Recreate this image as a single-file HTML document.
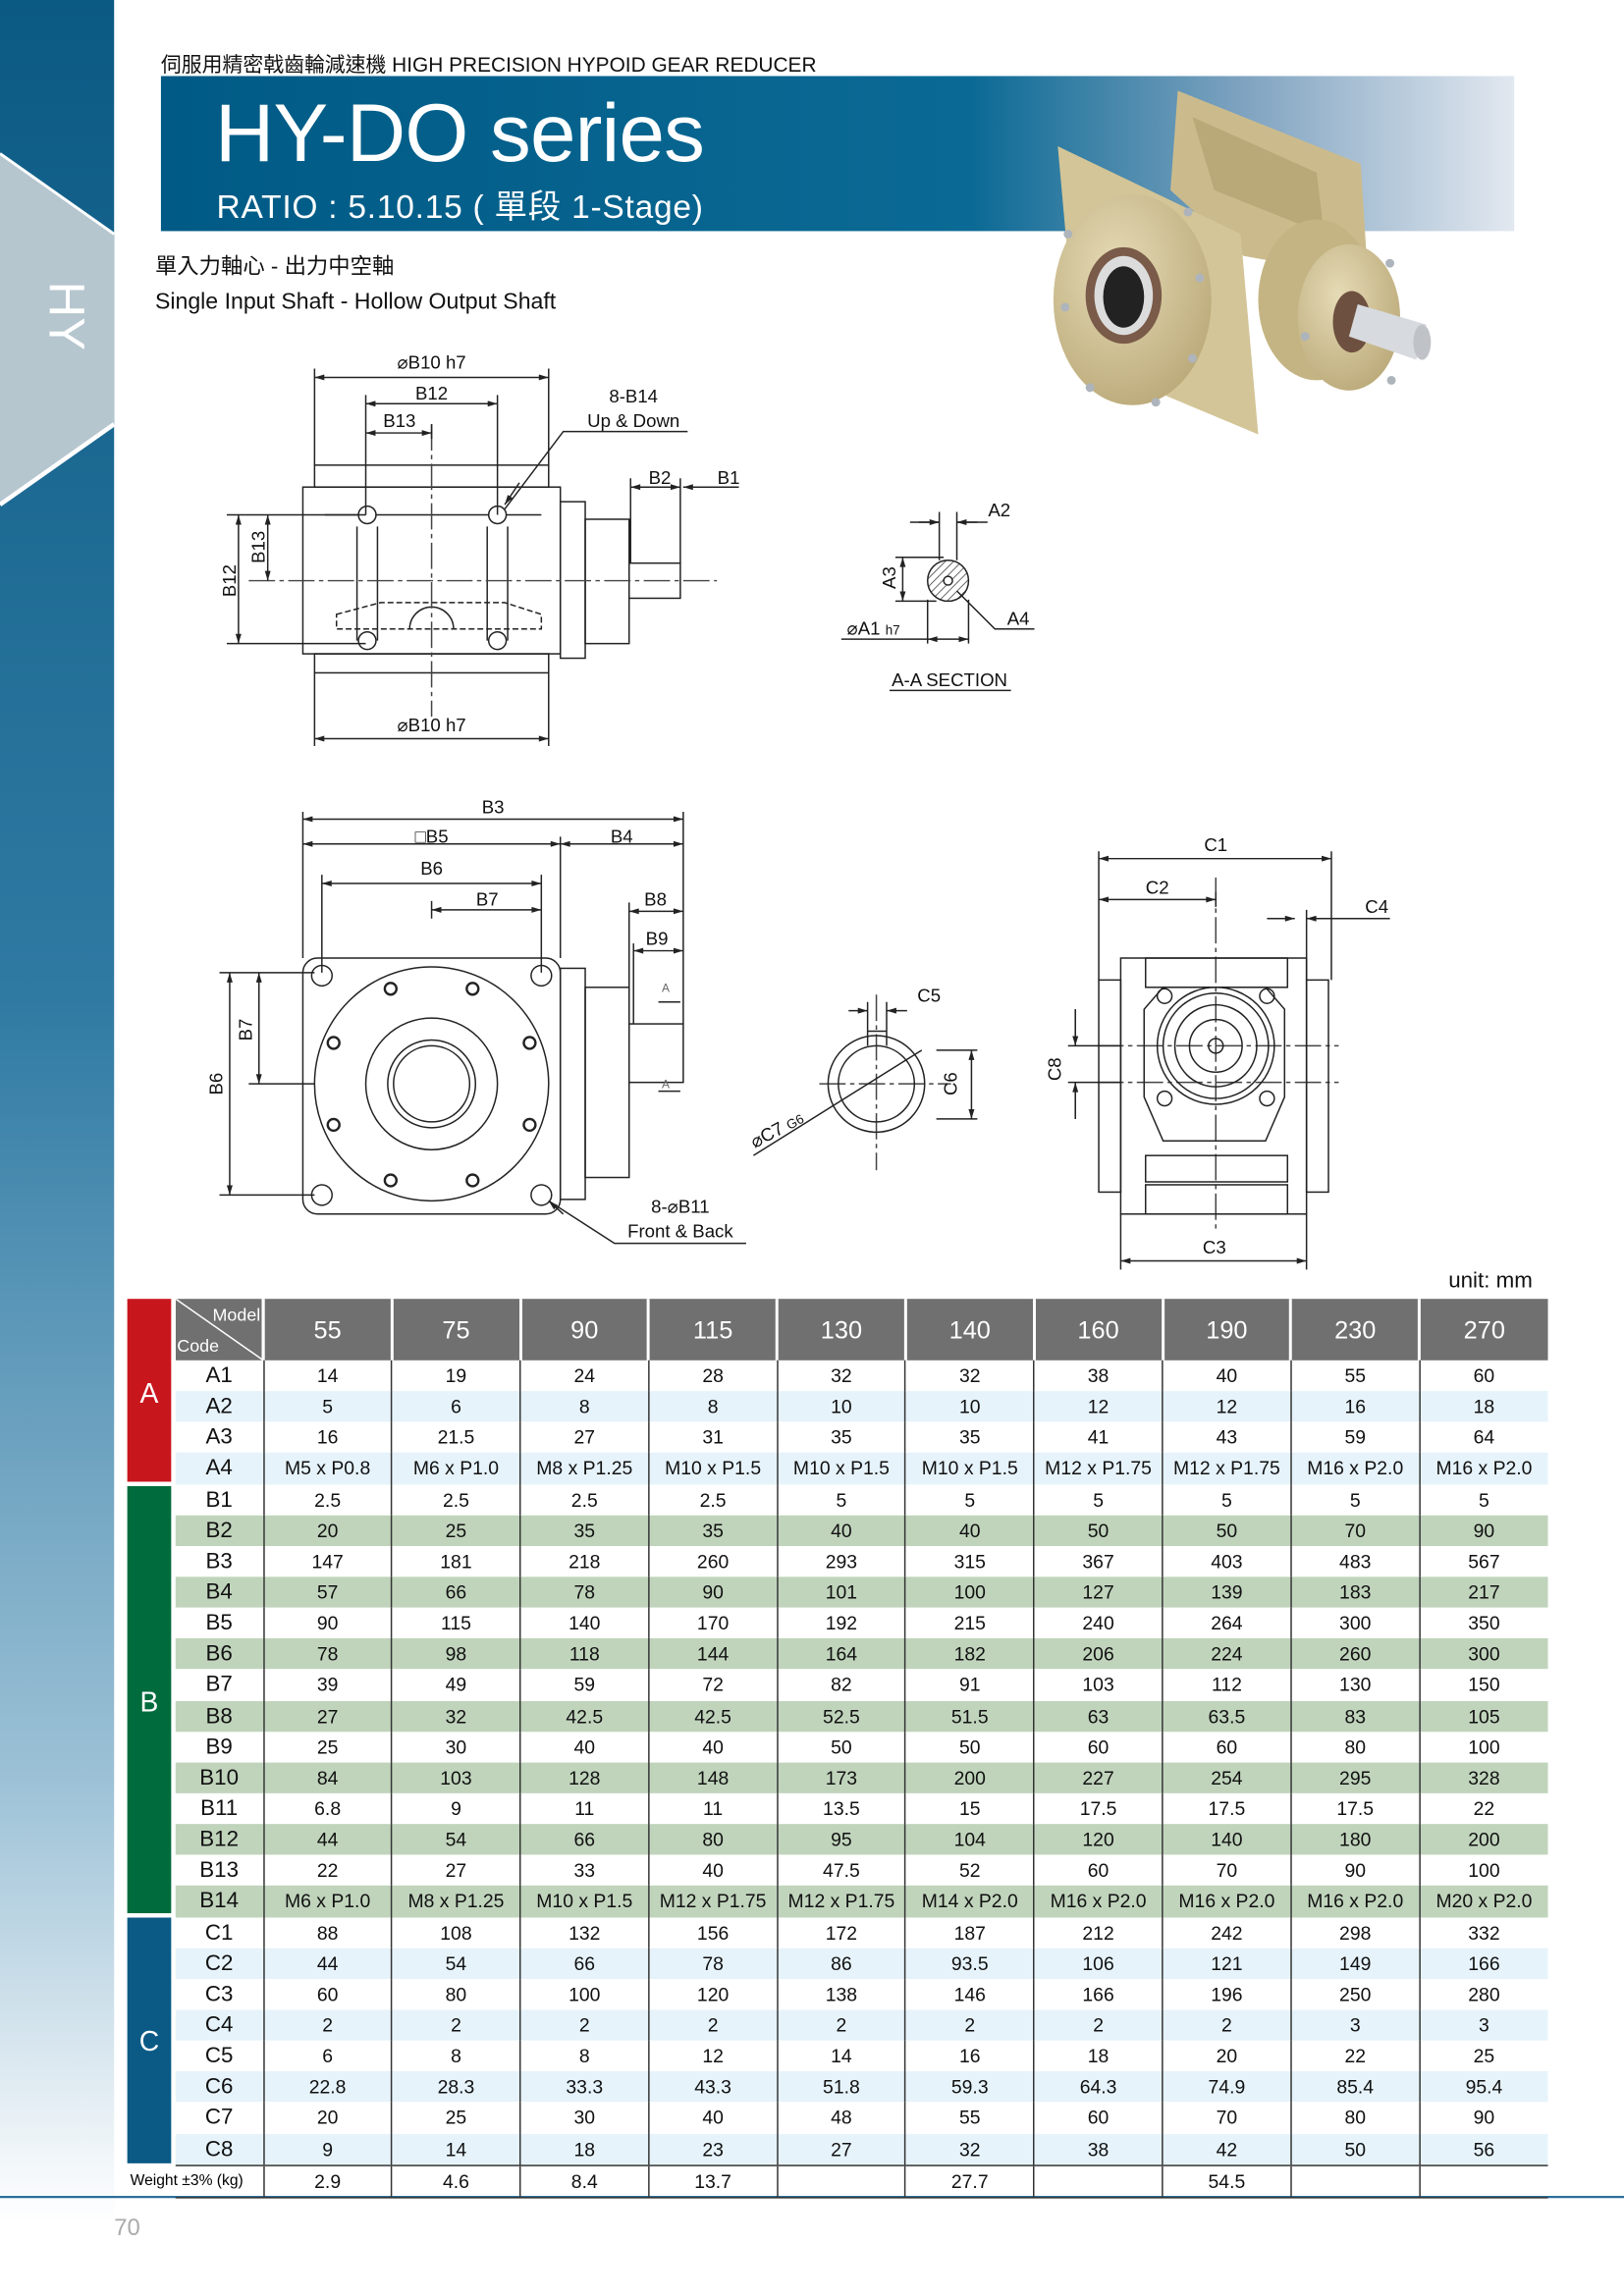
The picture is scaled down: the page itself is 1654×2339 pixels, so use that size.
<!DOCTYPE html>
<html><head><meta charset="utf-8">
<style>
*{margin:0;padding:0;box-sizing:border-box}
html,body{width:1654px;height:2339px;overflow:hidden;background:#fff}
#p{position:absolute;left:0;top:0;width:1110px;height:1570px;transform:scale(1.49009);transform-origin:0 0;font-family:"Liberation Sans","Noto Sans CJK TC",sans-serif;color:#111}
.a{position:absolute;white-space:nowrap}
table{position:absolute;left:120px;top:888px;border-collapse:collapse;table-layout:fixed;width:938px}
td{height:21.15px;text-align:center;font-size:13px;padding:0;border-left:1px solid #333;line-height:21px}
td:first-child{border-left:none;font-size:15px}
tr.h td{height:42px;background:#707070;color:#fff;font-size:17px;border-left:2px solid #fff}
tr.h td:first-child{border-left:none;position:relative;font-size:12px}
.sa{background:#e6f3fb}.sb{background:#c0d4bc}
tr.w td{border-top:1px solid #333;border-bottom:1px solid #333;font-size:13px}
tr.w td:first-child{font-size:11px}
.d line{marker-start:url(#ar);marker-end:url(#ar)}
</style></head><body><div id="p">
<svg class="a" style="left:0;top:0" width="1110" height="1570">
<defs>
<linearGradient id="lb" x1="0" y1="0" x2="0" y2="1"><stop offset="0" stop-color="#0b5a84"/><stop offset="0.45" stop-color="#2f7aa3"/><stop offset="0.8" stop-color="#9cc1d6"/><stop offset="1" stop-color="#fff"/></linearGradient>
<linearGradient id="bn" x1="0" y1="0" x2="1" y2="0"><stop offset="0" stop-color="#005a85"/><stop offset="0.6" stop-color="#0b6a95"/><stop offset="0.8" stop-color="#7fa3c0"/><stop offset="1" stop-color="#e2e8f0"/></linearGradient>
<pattern id="ht" width="4" height="4" patternUnits="userSpaceOnUse" patternTransform="rotate(45)"><line x1="0" y1="0" x2="0" y2="4" stroke="#333" stroke-width="1"/></pattern>
<radialGradient id="tan" cx="0.4" cy="0.35" r="0.75"><stop offset="0" stop-color="#e6dbb6"/><stop offset="1" stop-color="#b8a675"/></radialGradient>
<marker id="ar" viewBox="0 0 10 6" refX="10" refY="3" markerWidth="7" markerHeight="4" orient="auto-start-reverse" markerUnits="userSpaceOnUse"><path d="M0,0 L10,3 L0,6 Z" fill="#222"/></marker>
</defs>
<rect x="0" y="0" width="78" height="1520" fill="url(#lb)"/>
<polygon points="0,105 78,160 78,290 0,345" fill="#b6c6cf"/>
<polyline points="0,105 78,160" stroke="#fff" stroke-width="2" fill="none"/>
<polyline points="78,290 0,345" stroke="#fff" stroke-width="3" fill="none"/>
<text x="0" y="0" transform="translate(34,216) rotate(90)" fill="#fff" font-size="34" text-anchor="middle" font-family="Liberation Sans">HY</text>
<rect x="110" y="52" width="925" height="106" fill="url(#bn)"/>
<line x1="0" y1="1502" x2="1110" y2="1502" stroke="#2a6f99" stroke-width="1.5"/>
<!-- gear -->
<polygon points="805,62 930,112 935,190 850,175 800,130" fill="#cbbb8c"/>
<polygon points="815,80 900,118 905,160 830,130" fill="#b9a878"/>
<polygon points="723,100 848,160 860,297 736,245" fill="#d3c597"/>
<ellipse cx="774" cy="205" rx="54" ry="72" fill="url(#tan)"/>
<ellipse cx="768" cy="202" rx="26" ry="33" fill="#7a5a48"/>
<ellipse cx="768" cy="202" rx="20" ry="27" fill="#dcdcdc"/>
<ellipse cx="768" cy="203" rx="14" ry="21" fill="#222"/>
<ellipse cx="900" cy="205" rx="40" ry="55" fill="#c4b483"/>
<ellipse cx="922" cy="217" rx="35" ry="50" fill="url(#tan)"/>
<ellipse cx="924" cy="220" rx="13" ry="21" fill="#6e5040"/>
<polygon points="928,208 975,222 968,246 922,230" fill="#d7dade"/>
<ellipse cx="972" cy="234" rx="6" ry="12" fill="#bfc3c8"/>
<g fill="#aeb4bb"><circle cx="730" cy="160" r="3"/><circle cx="728" cy="210" r="3"/><circle cx="745" cy="265" r="3"/><circle cx="790" cy="275" r="3"/><circle cx="815" cy="245" r="3"/><circle cx="820" cy="190" r="3"/><circle cx="812" cy="145" r="3"/><circle cx="892" cy="230" r="3"/><circle cx="950" cy="180" r="3"/><circle cx="951" cy="260" r="3"/></g>
<!-- drawings -->
<g stroke="#222" stroke-width="1" fill="none">
<rect x="215" y="318" width="160" height="15"/><rect x="207" y="333" width="176" height="114"/><rect x="215" y="447" width="160" height="13"/>
<path d="M222,352 H245 M257,352 H334 M346,352 H370"/>
<path d="M244,360 V438 M258,360 V438 M333,360 V438 M347,360 V438"/>
<path d="M280,430 A15,15 0 0 1 310,430"/>
<circle cx="251" cy="352" r="6"/><circle cx="340" cy="352" r="6"/><circle cx="251" cy="438" r="6"/><circle cx="340" cy="438" r="6"/>
<rect x="383" y="343" width="17" height="107"/><rect x="400" y="355" width="30" height="85"/><rect x="430" y="385" width="35" height="24"/>
<path d="M230,420 L260,412 H345 L370,420 V430 H230 Z" stroke-dasharray="4,2"/>
<path stroke="#444" stroke-dasharray="18,3,3,3" d="M170,397 H490 M295,290 V490 M599,680 V800 M560,741 H650 M831,600 V840 M750,715 H915 M750,740 H915"/>
<path d="M215,252 V318 M375,252 V318 M250,270 V352 M340,270 V352 M295,290 V300 M215,460 V510 M375,460 V510 M431,327 V385 M465,327 V385 M155,352 H250 M155,440 H250 M175,352 H250"/>
<path d="M470,295 H385 L345,348 M675,357 H654 M622,357 H642 M642,350 V383 M654,350 V383 M612,381 H645 M612,411 H640 M575,437 H634 M634,410 V440 M662,410 V440 M654,404 L680,430 H707 M608,472 H691 M505,333 H467 M510,850 H420 L375,821"/>
<circle cx="648" cy="397" r="14" fill="url(#ht)"/><circle cx="648" cy="397" r="3" fill="#fff"/>
<rect x="207" y="655" width="176" height="175" rx="10"/>
<circle cx="295" cy="741" r="80"/><circle cx="295" cy="741" r="45"/><circle cx="295" cy="741" r="30"/><circle cx="295" cy="741" r="26"/>
<circle cx="220" cy="667" r="7"/><circle cx="370" cy="667" r="7"/><circle cx="220" cy="817" r="7"/><circle cx="370" cy="817" r="7"/>
<g stroke-width="1.6"><circle cx="267" cy="676" r="4"/><circle cx="323" cy="676" r="4"/><circle cx="228" cy="713" r="4"/><circle cx="362" cy="713" r="4"/><circle cx="228" cy="769" r="4"/><circle cx="362" cy="769" r="4"/><circle cx="267" cy="807" r="4"/><circle cx="323" cy="807" r="4"/></g>
<rect x="383" y="662" width="17" height="158"/><rect x="400" y="675" width="30" height="130"/><rect x="430" y="700" width="37" height="40"/>
<path d="M207,555 V655 M467,555 V700 M383,572 V655 M220,598 V665 M370,598 V665 M295,616 V628 M430,617 V700 M433,645 V700 M150,665 H215 M150,817 H215 M170,741 H215 M450,685 H465 M450,746 H465"/>
<circle cx="599" cy="741" r="33"/><circle cx="599" cy="741" r="26"/>
<path d="M593,715 V705 H606 V715 M593,685 V715 M606,685 V715 M640,718 H668 M640,765 H668 M515,790 L630,718"/>
<rect x="766" y="655" width="127" height="175"/><rect x="751" y="670" width="15" height="145"/><rect x="893" y="670" width="15" height="145"/>
<rect x="783" y="655" width="97" height="20"/><rect x="783" y="790" width="97" height="18"/><rect x="783" y="810" width="97" height="20"/>
<polygon points="795,675 865,675 878,690 878,750 865,780 795,780 782,750 782,690"/>
<circle cx="831" cy="715" r="40"/><circle cx="831" cy="715" r="36"/><circle cx="831" cy="715" r="28"/><circle cx="831" cy="715" r="18"/><circle cx="831" cy="715" r="5"/>
<circle cx="796" cy="681" r="5"/><circle cx="866" cy="681" r="5"/><circle cx="796" cy="751" r="5"/><circle cx="866" cy="751" r="5"/>
<path d="M751,582 V670 M910,582 V670 M893,622 V670 M831,610 V620 M766,830 V868 M893,830 V868 M730,715 H766 M730,740 H766 M878,628 H866 M895,628 H950 M735,690 V715 M735,740 V765"/>
</g>
<g class="d" stroke="#222" stroke-width="1">
<line x1="215" y1="258" x2="375" y2="258"/><line x1="250" y1="276" x2="340" y2="276"/><line x1="250" y1="296" x2="295" y2="296"/>
<line x1="215" y1="505" x2="375" y2="505"/><line x1="431" y1="333" x2="465" y2="333"/>
<line x1="163" y1="352" x2="163" y2="440"/><line x1="183" y1="352" x2="183" y2="397"/>
<line x1="617" y1="381" x2="617" y2="411"/><line x1="634" y1="437" x2="662" y2="437"/>
<line x1="207" y1="560" x2="467" y2="560"/><line x1="207" y1="577" x2="383" y2="577"/><line x1="383" y1="577" x2="467" y2="577"/>
<line x1="220" y1="604" x2="370" y2="604"/><line x1="295" y1="622" x2="370" y2="622"/><line x1="430" y1="623" x2="467" y2="623"/><line x1="433" y1="650" x2="467" y2="650"/>
<line x1="157" y1="665" x2="157" y2="817"/><line x1="177" y1="665" x2="177" y2="741"/>
<line x1="664" y1="718" x2="664" y2="765"/>
<line x1="751" y1="587" x2="910" y2="587"/><line x1="751" y1="615" x2="831" y2="615"/><line x1="766" y1="862" x2="893" y2="862"/>
</g>
<g stroke="#222" stroke-width="1" marker-end="url(#ar)">
<line x1="490" y1="333" x2="467" y2="333"/><line x1="355" y1="330" x2="345" y2="345"/><line x1="385" y1="830" x2="375" y2="821"/>
<line x1="628" y1="357" x2="642" y2="357"/><line x1="668" y1="357" x2="654" y2="357"/>
<line x1="580" y1="691" x2="593" y2="691"/><line x1="620" y1="691" x2="606" y2="691"/>
<line x1="872" y1="628" x2="885" y2="628"/><line x1="905" y1="628" x2="893" y2="628"/>
<line x1="735" y1="690" x2="735" y2="715"/><line x1="735" y1="765" x2="735" y2="740"/>
</g>
<g fill="#111" font-size="12.5" font-family="Liberation Sans" text-anchor="middle">
<text x="295" y="252">⌀B10 h7</text><text x="295" y="273">B12</text><text x="273" y="292">B13</text>
<text x="433" y="275">8-B14</text><text x="433" y="292">Up &amp; Down</text>
<text x="451" y="331">B2</text><text x="498" y="331">B1</text>
<text transform="translate(161,397) rotate(-90)">B12</text><text transform="translate(181,374) rotate(-90)">B13</text>
<text x="295" y="500">⌀B10 h7</text>
<text x="683" y="353">A2</text><text transform="translate(612,395) rotate(-90)">A3</text><text x="696" y="427">A4</text>
<text x="597" y="434">⌀A1 <tspan font-size="9">h7</tspan></text><text x="649" y="469">A-A SECTION</text>
<text x="337" y="556">B3</text><text x="295" y="576">□B5</text><text x="425" y="576">B4</text>
<text x="295" y="598">B6</text><text x="333" y="619">B7</text><text x="448" y="619">B8</text><text x="449" y="646">B9</text>
<text transform="translate(152,741) rotate(-90)">B6</text><text transform="translate(172,704) rotate(-90)">B7</text>
<text x="465" y="829">8-⌀B11</text><text x="465" y="846">Front &amp; Back</text>
<text x="635" y="685">C5</text><text transform="translate(654,741) rotate(-90)">C6</text>
<text transform="translate(533,776) rotate(-28)">⌀C7 <tspan font-size="9">G6</tspan></text>
<text x="831" y="582">C1</text><text x="791" y="611">C2</text><text x="941" y="624">C4</text><text x="830" y="857">C3</text>
<text transform="translate(725,731) rotate(-90)">C8</text>
<text x="455" y="678" font-size="8" fill="#666">A</text><text x="455" y="744" font-size="8" fill="#666">A</text>
</g>
<rect x="87" y="888" width="30" height="125" fill="#c8161d"/>
<rect x="87" y="1016" width="30" height="292" fill="#006b3c"/>
<rect x="87" y="1311" width="30" height="168" fill="#0a5a85"/>
<g fill="#fff" font-size="19" text-anchor="middle" font-family="Liberation Sans"><text x="102" y="959">A</text><text x="102" y="1170">B</text><text x="102" y="1402">C</text></g>
<text x="89" y="1494" font-size="10.5" font-family="Liberation Sans">Weight ±3% (kg)</text>
</svg>
<div class="a" style="left:110px;top:34px;font-size:14px">伺服用精密戟齒輪減速機 HIGH PRECISION HYPOID GEAR REDUCER</div>
<div class="a" style="left:147px;top:58px;font-size:56px;color:#fff;letter-spacing:-0.5px">HY-DO series</div>
<div class="a" style="left:148px;top:124px;font-size:22.5px;color:#fff;letter-spacing:0.5px">RATIO : 5.10.15 ( 單段 1-Stage)</div>
<div class="a" style="left:106px;top:171px;font-size:15px">單入力軸心 - 出力中空軸</div>
<div class="a" style="left:106px;top:198px;font-size:15.5px">Single Input Shaft - Hollow Output Shaft</div>
<div class="a" style="left:990px;top:867px;font-size:15px">unit: mm</div>
<div class="a" style="left:78px;top:1515px;font-size:16px;color:#aaa">70</div>
<table>
<colgroup><col style="width:60px"><col span="10" style="width:87.8px"></colgroup>
<tr class="h"><td><svg style="position:absolute;left:0;top:0" width="60" height="42"><line x1="0" y1="0" x2="60" y2="42" stroke="#fff"/><text x="58" y="15" fill="#fff" font-size="12" text-anchor="end" font-family="Liberation Sans">Model</text><text x="1" y="36" fill="#fff" font-size="12" font-family="Liberation Sans">Code</text></svg></td><td>55</td><td>75</td><td>90</td><td>115</td><td>130</td><td>140</td><td>160</td><td>190</td><td>230</td><td>270</td></tr>
<tr><td>A1</td><td>14</td><td>19</td><td>24</td><td>28</td><td>32</td><td>32</td><td>38</td><td>40</td><td>55</td><td>60</td></tr>
<tr class="sa"><td>A2</td><td>5</td><td>6</td><td>8</td><td>8</td><td>10</td><td>10</td><td>12</td><td>12</td><td>16</td><td>18</td></tr>
<tr><td>A3</td><td>16</td><td>21.5</td><td>27</td><td>31</td><td>35</td><td>35</td><td>41</td><td>43</td><td>59</td><td>64</td></tr>
<tr class="sa"><td>A4</td><td>M5 x P0.8</td><td>M6 x P1.0</td><td>M8 x P1.25</td><td>M10 x P1.5</td><td>M10 x P1.5</td><td>M10 x P1.5</td><td>M12 x P1.75</td><td>M12 x P1.75</td><td>M16 x P2.0</td><td>M16 x P2.0</td></tr>
<tr><td>B1</td><td>2.5</td><td>2.5</td><td>2.5</td><td>2.5</td><td>5</td><td>5</td><td>5</td><td>5</td><td>5</td><td>5</td></tr>
<tr class="sb"><td>B2</td><td>20</td><td>25</td><td>35</td><td>35</td><td>40</td><td>40</td><td>50</td><td>50</td><td>70</td><td>90</td></tr>
<tr><td>B3</td><td>147</td><td>181</td><td>218</td><td>260</td><td>293</td><td>315</td><td>367</td><td>403</td><td>483</td><td>567</td></tr>
<tr class="sb"><td>B4</td><td>57</td><td>66</td><td>78</td><td>90</td><td>101</td><td>100</td><td>127</td><td>139</td><td>183</td><td>217</td></tr>
<tr><td>B5</td><td>90</td><td>115</td><td>140</td><td>170</td><td>192</td><td>215</td><td>240</td><td>264</td><td>300</td><td>350</td></tr>
<tr class="sb"><td>B6</td><td>78</td><td>98</td><td>118</td><td>144</td><td>164</td><td>182</td><td>206</td><td>224</td><td>260</td><td>300</td></tr>
<tr><td>B7</td><td>39</td><td>49</td><td>59</td><td>72</td><td>82</td><td>91</td><td>103</td><td>112</td><td>130</td><td>150</td></tr>
<tr class="sb"><td>B8</td><td>27</td><td>32</td><td>42.5</td><td>42.5</td><td>52.5</td><td>51.5</td><td>63</td><td>63.5</td><td>83</td><td>105</td></tr>
<tr><td>B9</td><td>25</td><td>30</td><td>40</td><td>40</td><td>50</td><td>50</td><td>60</td><td>60</td><td>80</td><td>100</td></tr>
<tr class="sb"><td>B10</td><td>84</td><td>103</td><td>128</td><td>148</td><td>173</td><td>200</td><td>227</td><td>254</td><td>295</td><td>328</td></tr>
<tr><td>B11</td><td>6.8</td><td>9</td><td>11</td><td>11</td><td>13.5</td><td>15</td><td>17.5</td><td>17.5</td><td>17.5</td><td>22</td></tr>
<tr class="sb"><td>B12</td><td>44</td><td>54</td><td>66</td><td>80</td><td>95</td><td>104</td><td>120</td><td>140</td><td>180</td><td>200</td></tr>
<tr><td>B13</td><td>22</td><td>27</td><td>33</td><td>40</td><td>47.5</td><td>52</td><td>60</td><td>70</td><td>90</td><td>100</td></tr>
<tr class="sb"><td>B14</td><td>M6 x P1.0</td><td>M8 x P1.25</td><td>M10 x P1.5</td><td>M12 x P1.75</td><td>M12 x P1.75</td><td>M14 x P2.0</td><td>M16 x P2.0</td><td>M16 x P2.0</td><td>M16 x P2.0</td><td>M20 x P2.0</td></tr>
<tr><td>C1</td><td>88</td><td>108</td><td>132</td><td>156</td><td>172</td><td>187</td><td>212</td><td>242</td><td>298</td><td>332</td></tr>
<tr class="sa"><td>C2</td><td>44</td><td>54</td><td>66</td><td>78</td><td>86</td><td>93.5</td><td>106</td><td>121</td><td>149</td><td>166</td></tr>
<tr><td>C3</td><td>60</td><td>80</td><td>100</td><td>120</td><td>138</td><td>146</td><td>166</td><td>196</td><td>250</td><td>280</td></tr>
<tr class="sa"><td>C4</td><td>2</td><td>2</td><td>2</td><td>2</td><td>2</td><td>2</td><td>2</td><td>2</td><td>3</td><td>3</td></tr>
<tr><td>C5</td><td>6</td><td>8</td><td>8</td><td>12</td><td>14</td><td>16</td><td>18</td><td>20</td><td>22</td><td>25</td></tr>
<tr class="sa"><td>C6</td><td>22.8</td><td>28.3</td><td>33.3</td><td>43.3</td><td>51.8</td><td>59.3</td><td>64.3</td><td>74.9</td><td>85.4</td><td>95.4</td></tr>
<tr><td>C7</td><td>20</td><td>25</td><td>30</td><td>40</td><td>48</td><td>55</td><td>60</td><td>70</td><td>80</td><td>90</td></tr>
<tr class="sa"><td>C8</td><td>9</td><td>14</td><td>18</td><td>23</td><td>27</td><td>32</td><td>38</td><td>42</td><td>50</td><td>56</td></tr>
<tr class="w"><td></td><td>2.9</td><td>4.6</td><td>8.4</td><td>13.7</td><td></td><td>27.7</td><td></td><td>54.5</td><td></td><td></td></tr>
</table>
</div></body></html>
